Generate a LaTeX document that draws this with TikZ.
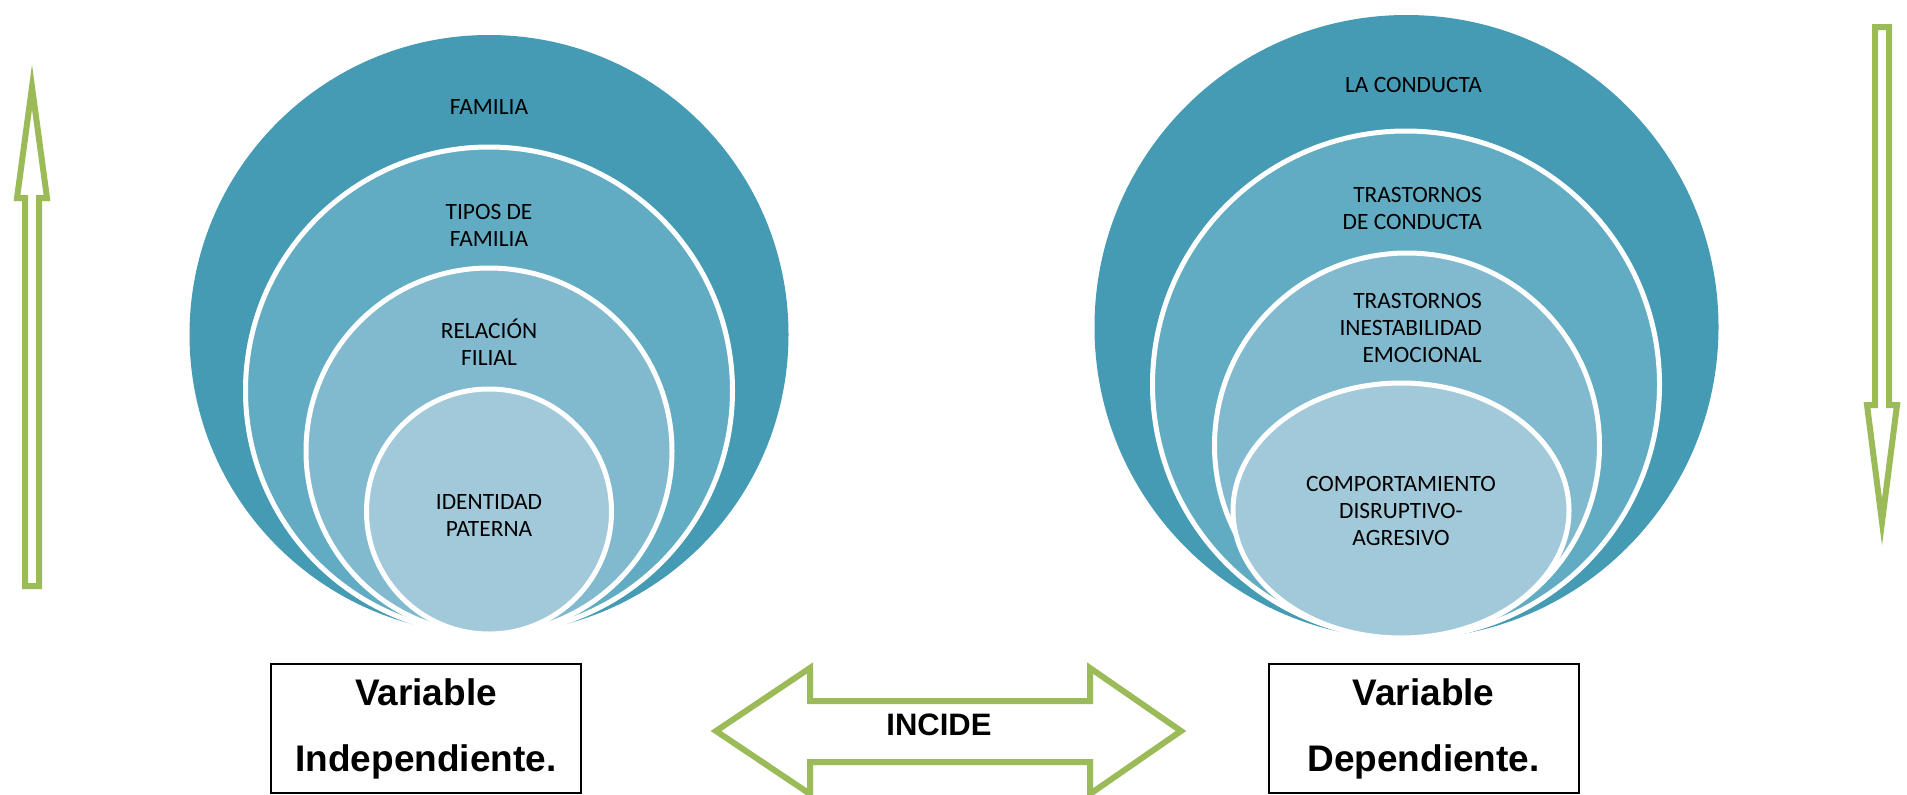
\documentclass[tikz,border=0pt]{standalone}
\usepackage{fontspec}
\newfontfamily\calib{Carlito}
\newfontfamily\arialf{Liberation Sans}
\definecolor{cOne}{HTML}{459AB4}
\definecolor{cTwo}{HTML}{62ACC3}
\definecolor{cThree}{HTML}{81B9CE}
\definecolor{cFour}{HTML}{A2C9DA}
\definecolor{agreen}{HTML}{9BBB59}
\tikzset{
  ring/.style={draw=white, line width=5pt},
  blockarrow/.style={draw=agreen, line width=6pt, line join=miter, fill=white},
  lbl/.style={font=\calib\fontsize{23.4}{27}\selectfont, inner sep=0pt, text=black},
  varbox/.style={draw=black, line width=2pt, minimum width=310pt, minimum height=129pt, align=center,
    font=\arialf\bfseries\fontsize{37}{66}\selectfont, inner sep=0pt},
}
\begin{document}
\begin{tikzpicture}[x=1pt,y=-1pt]
\useasboundingbox (0,0) rectangle (1907,795);
% left stacked circles (tangent at bottom 489,634)
\fill[cOne] (489,334.5) circle[radius=299.5pt];
\filldraw[ring, fill=cTwo] (489,390.5) circle[radius=243.5pt];
\filldraw[ring, fill=cThree] (489,451) circle[radius=183pt];
\filldraw[ring, fill=cFour] (489,511.5) circle[radius=122.5pt];
\node[lbl] (famil) at (489,107) {FAMILIA};
\node[lbl, align=center] (tipos) at (489,225.5) {TIPOS DE\\FAMILIA};
\node[lbl, align=center] (relac) at (489,342) {RELACIÓN\\FILIAL};
\node[lbl, align=center] (ident) at (489,515) {IDENTIDAD\\PATERNA};
% right stacked circles (tangent at bottom 638)
\fill[cOne] (1406.5,327) circle[radius=312pt];
\filldraw[ring, fill=cTwo] (1406,384.5) circle[radius=253.5pt];
\filldraw[ring, fill=cThree] (1407,445.5) circle[radius=192.5pt];
\filldraw[ring, fill=cFour] (1401,510.5) ellipse[x radius=168pt, y radius=127.5pt];
\node[lbl, anchor=east] (lacond) at (1482,85) {LA CONDUCTA};
\node[lbl, align=right, anchor=east] (trcond) at (1482,208) {TRASTORNOS\\DE CONDUCTA};
\node[lbl, align=right, anchor=east] (trines) at (1482,328) {TRASTORNOS\\INESTABILIDAD\\EMOCIONAL};
\node[lbl, align=center] (compor) at (1401,511) {COMPORTAMIENTO\\DISRUPTIVO-\\AGRESIVO};
% vertical block arrows
\draw[blockarrow] (25,586) -- (25,198) -- (17,198) -- (32,87) -- (47,198) -- (39,198) -- (39,586) -- cycle;
\draw[blockarrow] (1875,27) -- (1889,27) -- (1889,405) -- (1897,405) -- (1882,522) -- (1867,405) -- (1875,405) -- cycle;
% variable boxes
\node[varbox] (vind) at (426,728.5) {Variable\\Independiente.};
\node[varbox] (vdep) at (1423.5,728.5) {Variable\\Dependiente.};
% INCIDE double arrow
\draw[blockarrow] (716,731) -- (810,668) -- (810,701) -- (1090,701) -- (1090,668) -- (1181,731) -- (1090,794) -- (1090,762) -- (810,762) -- (810,794) -- cycle;
\node[font=\arialf\bfseries\fontsize{31}{36}\selectfont, inner sep=0pt] (incide) at (939,725) {INCIDE};
\end{tikzpicture}
\end{document}
